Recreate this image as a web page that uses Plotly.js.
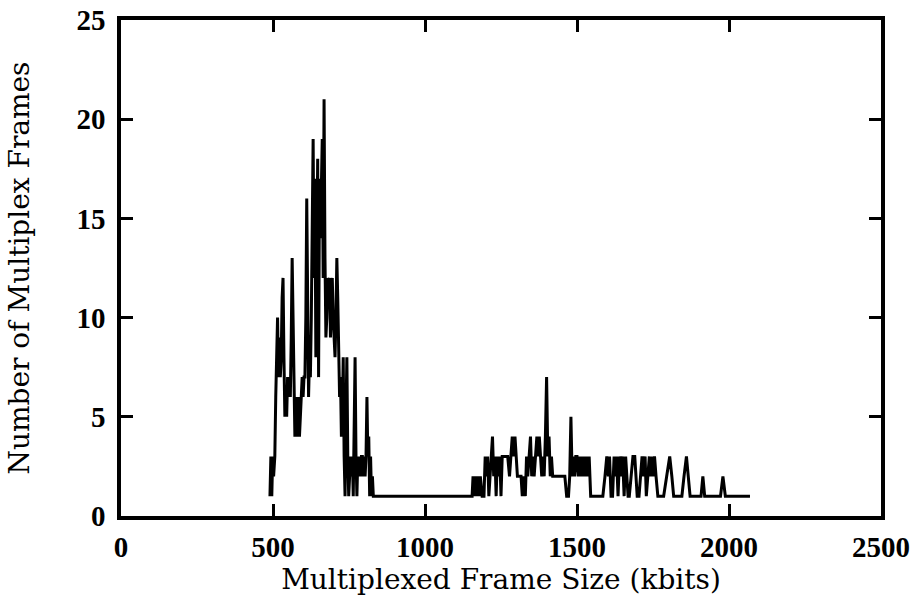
<!DOCTYPE html>
<html>
<head>
<meta charset="utf-8">
<script src="https://cdn.plot.ly/plotly-3.0.1.min.js"></script>
<style>html,body{margin:0;padding:0;background:#fff;}#chart{width:914px;height:602px;}</style>
</head>
<body>
<div id="chart"></div>
<script>
// Multiplexed frame size (kbits)
var frameSize = [
  490,493,496,499,502,506,509,512,515,518,521,524,527,530,533,536,539,542,545,548,
  551,554,557,560,563,566,569,572,575,578,581,584,587,590,593,596,599,602,605,608,
  611,614,617,620,623,626,629,632,635,638,641,644,647,650,653,656,659,662,665,668,
  671,674,677,680,683,686,689,692,695,698,701,704,707,710,713,716,719,722,725,728,
  731,734,737,740,743,746,749,752,755,758,761,764,767,770,773,776,779,782,785,788,
  791,794,797,800,803,806,809,812,815,818,821,824,827,830,835,840,845,
  1155,1158,1162,1166,1170,1174,1178,1182,1188,1194,1198,1202,1206,1210,1214,1218,1222,1226,1230,1234,
  1238,1242,1246,1250,1254,1260,1266,1272,1278,1282,1287,1292,1296,1300,1304,1310,1316,1320,1325,1330,
  1334,1338,1342,1347,1351,1355,1359,1364,1368,1372,1376,1380,1384,1388,1392,1396,1400,1404,1408,1412,
  1416,1420,1430,1440,1450,1460,1466,1472,1476,1480,1484,1488,1492,1496,1500,1504,1508,1512,1516,1520,
  1524,1528,1532,1536,1540,1545,1555,1565,1575,1585,1592,1598,1603,1607,1612,1617,1622,1626,1630,1635,
  1640,1645,1650,1655,1660,1664,1668,1672,1678,1684,1690,1694,1698,1704,1709,1714,1719,1724,1728,1733,
  1738,1742,1746,1750,1755,1760,1766,1775,1785,1795,1805,1812,1818,1830,1845,1852,1860,1866,1872,1890,
  1900,1908,1914,1920,1960,1972,1980,1988,2000,2069
];
// Number of multiplex frames
var frameCount = [
  1,3,1,3,2,3,6,9,10,7,9,7,8,11,12,8,5,6,5,7,
  6,7,6,9,13,10,5,4,6,4,5,6,4,5,6,7,6,7,7,10,
  16,9,6,8,7,10,15,19,12,17,8,16,18,7,17,14,18,19,12,21,
  13,9,10,12,11,12,9,11,12,10,9,8,10,13,11,8,6,7,4,5,
  8,3,1,5,8,3,1,2,3,2,3,1,5,8,3,1,3,2,3,2,
  3,3,2,3,2,3,6,3,4,1,3,1,2,1,1,1,1,
  1,2,1,2,1,2,1,2,1,1,3,2,3,1,2,3,4,2,3,1,
  3,2,3,1,3,3,3,3,2,3,4,3,4,3,2,2,2,1,2,1,
  3,2,3,4,2,3,2,3,4,3,4,3,2,3,2,4,7,3,4,2,
  3,2,2,2,2,2,1,1,2,5,2,3,2,3,3,2,3,2,3,2,
  3,2,3,2,3,1,1,1,1,1,2,3,2,3,1,1,3,2,3,1,
  3,2,3,1,3,2,1,1,2,3,3,2,1,1,2,3,2,3,1,2,
  3,2,3,2,3,2,1,1,1,2,3,2,1,1,1,2,3,2,1,1,
  1,1,2,1,1,1,2,1,1,1
];
var xTicks = [0, 500, 1000, 1500, 2000, 2500];
var yTicks = [0, 5, 10, 15, 20, 25];

var tickFont = {family: '"Liberation Serif", serif', size: 29, color: '#000', weight: 'bold'};
var titleFont = {family: '"DejaVu Serif", serif', size: 28, color: '#000'};

Plotly.newPlot('chart', [{
  x: frameSize,
  y: frameCount,
  type: 'scatter',
  mode: 'lines',
  line: {color: '#000', width: 3},
  showlegend: false,
  hoverinfo: 'x+y'
}], {
  width: 914, height: 602,
  margin: {l: 121, r: 33, t: 20, b: 86},
  paper_bgcolor: '#fff', plot_bgcolor: '#fff',
  font: {family: '"Liberation Serif", serif', size: 26, color: '#000'},
  xaxis: {
    range: [0, 2500], tickvals: xTicks, ticktext: xTicks.map(String),
    ticks: 'inside', ticklen: 12, tickwidth: 3, tickcolor: '#000',
    showline: true, linecolor: '#000', linewidth: 3.5, mirror: 'ticks',
    showgrid: false, zeroline: false, tickfont: tickFont,
    title: {text: 'Multiplexed Frame Size (kbits)', font: titleFont, standoff: 3},
    ticklabelstandoff: 2
  },
  yaxis: {
    range: [0, 25], tickvals: yTicks, ticktext: yTicks.map(String),
    ticks: 'inside', ticklen: 12, tickwidth: 3, tickcolor: '#000',
    showline: true, linecolor: '#000', linewidth: 3.5, mirror: 'ticks',
    showgrid: false, zeroline: false, tickfont: tickFont,
    title: {text: 'Number of Multiplex Frames', font: titleFont, standoff: 40},
    ticklabelstandoff: 6
  }
}, {displayModeBar: false});
</script>
</body>
</html>
